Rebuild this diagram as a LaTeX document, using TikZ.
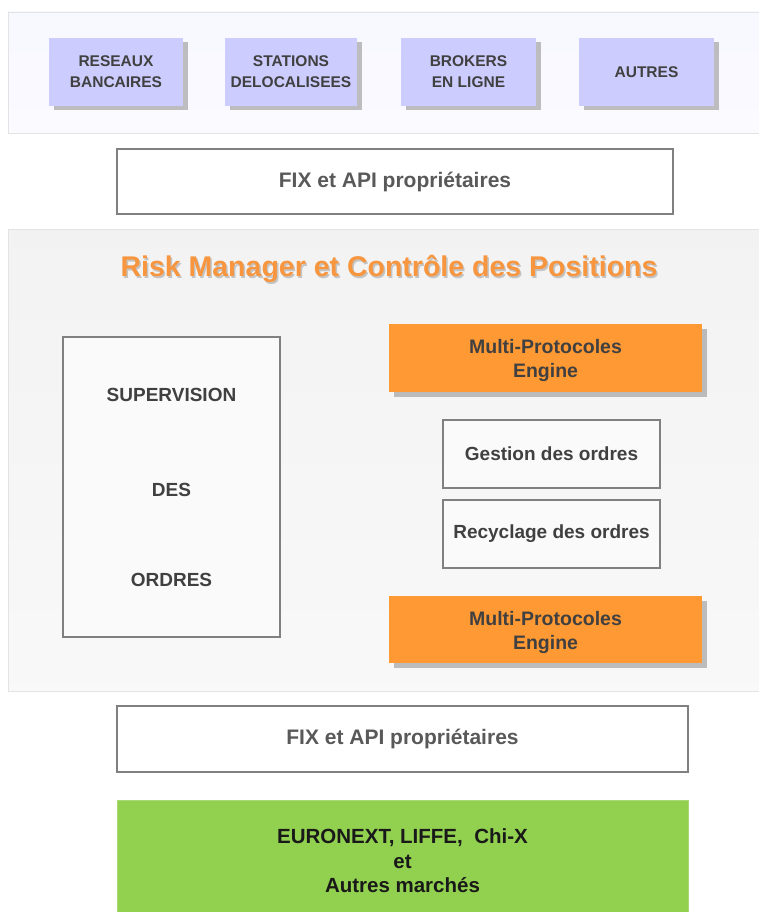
\documentclass[tikz,border=0pt]{standalone}
\usepackage{fontspec}
\setmainfont{Liberation Sans}
\usetikzlibrary{shadows}
\definecolor{txt}{HTML}{404040}
\definecolor{fixtxt}{HTML}{595959}
\definecolor{lav}{HTML}{CCCCFF}
\definecolor{orng}{HTML}{FF9933}
\definecolor{titleor}{HTML}{F7963F}
\definecolor{grn}{HTML}{92D050}
\definecolor{bandedge}{HTML}{E3E3E3}
\definecolor{titlesh}{HTML}{C4C4C4}
\tikzset{
  shad/.style={drop shadow={shadow xshift=4.5pt, shadow yshift=-4.5pt, fill=black!45, opacity=.55}},
  srcbox/.style={shad, fill=lav, draw=none, anchor=north west, align=center, text=txt,
     font=\fontsize{15.5}{21}\selectfont\bfseries, inner sep=0pt, outer sep=0pt},
  fixbox/.style={draw=black!50, line width=1.2pt, fill=white, anchor=north west, align=center, text=fixtxt,
     font=\fontsize{21}{24}\selectfont\bfseries, inner sep=0pt, outer sep=0pt},
  whitebox/.style={draw=black!50, line width=1.2pt, fill=white!98!black, anchor=north west, align=center, text=txt,
     font=\fontsize{19}{23}\selectfont\bfseries, inner sep=0pt, outer sep=0pt},
  engbox/.style={shad, fill=orng, draw=none, anchor=north west, align=center, text=txt,
     font=\fontsize{19.5}{24}\selectfont\bfseries, inner sep=0pt, outer sep=0pt},
}
\newcommand{\titletext}{Risk Manager et Contrôle des Positions}
\begin{document}
\begin{tikzpicture}[x=1pt, y=-1pt]
\useasboundingbox (0,0) rectangle (758,912);
\fill[white] (0,0) rectangle (758,912);
% top band
\shade[top color=white!93!blue!40!white, bottom color=white!98!blue, draw=bandedge, line width=0.8pt]
  (8,12) rectangle (762,133);
\node[srcbox, minimum width=134pt, minimum height=68pt] (res) at (49,38) {RESEAUX\\BANCAIRES};
\node[srcbox, minimum width=132pt, minimum height=68pt] (sta) at (225,38) {STATIONS\\DELOCALISEES};
\node[srcbox, minimum width=135pt, minimum height=68pt] (bro) at (401,38) {BROKERS\\EN LIGNE};
\node[srcbox, minimum width=135pt, minimum height=68pt] (aut) at (579,38) {AUTRES};
% FIX 1
\node[fixbox, minimum width=556pt, minimum height=65pt] (fix1) at (117,149) {FIX et API propriétaires};
% middle band
\shade[top color=black!5, bottom color=black!2.5, draw=bandedge, line width=0.8pt]
  (8,229) rectangle (762,691);
\node[text=titleor, font=\fontsize{28.5}{32}\selectfont\bfseries] (title) at (389,270)
  {\rlap{\hspace{1.5pt}\raisebox{-2.5pt}{\color{titlesh}\titletext}}\titletext};
% supervision
\node[whitebox, minimum width=217pt, minimum height=300pt] (sup) at (63,337) {SUPERVISION\\[72pt]DES\\[67pt]ORDRES};
% engines
\node[engbox, minimum width=313pt, minimum height=68pt] (mpe1) at (389,324) {\rule{0pt}{20pt}Multi-Protocoles\\Engine};
\node[whitebox, minimum width=217pt, minimum height=68pt] (ges) at (443,420) {Gestion des ordres};
\node[whitebox, minimum width=217pt, minimum height=68pt] (rec) at (443,500) {Recyclage des ordres};
\node[engbox, minimum width=313pt, minimum height=67pt] (mpe2) at (389,596) {\rule{0pt}{20pt}Multi-Protocoles\\Engine};
% FIX 2
\node[fixbox, minimum width=571pt, minimum height=66pt] (fix2) at (117,706) {FIX et API propriétaires};
% markets
\node[fill=grn, draw=grn!80!white, line width=0.8pt, anchor=north west, minimum width=571pt, minimum height=122pt,
  align=center, text=black!90, font=\fontsize{20.5}{24.5}\selectfont\bfseries, inner sep=0pt, outer sep=0pt] (mkt) at (117,800)
  {EURONEXT, LIFFE,\ \ Chi-X\\et\\Autres marchés};
\end{tikzpicture}
\end{document}
